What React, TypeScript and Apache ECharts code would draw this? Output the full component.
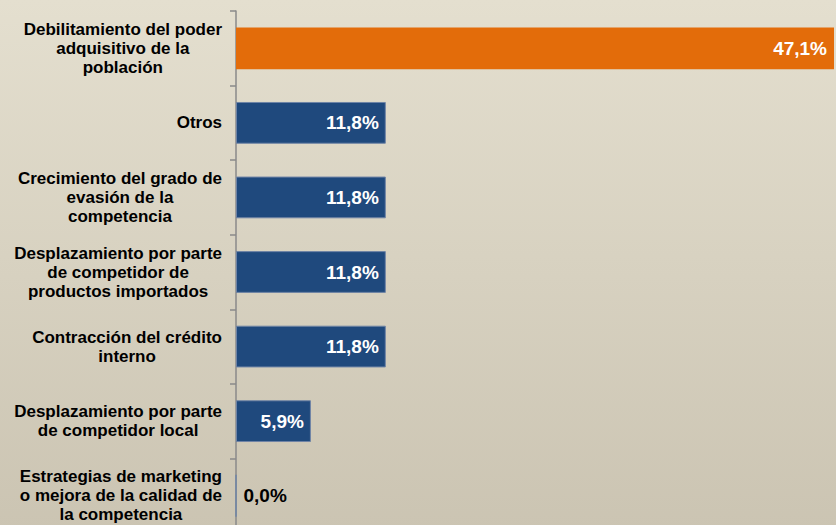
import React, { useEffect, useRef } from "react";
import * as echarts from "echarts";

const categories = [
  "Debilitamiento del poder\nadquisitivo de la\npoblación",
  "Otros",
  "Crecimiento del grado de\nevasión de la\ncompetencia",
  "Desplazamiento por parte\nde competidor de\nproductos importados",
  "Contracción del crédito\ninterno",
  "Desplazamiento por parte\nde competidor local",
  "Estrategias de marketing\no mejora de la calidad de\nla competencia",
];
const values = [47.1, 11.8, 11.8, 11.8, 11.8, 5.9, 0.0];
const highlightIndex = 0;

export default function App() {
  const ref = useRef<HTMLDivElement>(null);
  useEffect(() => {
    if (!ref.current) return;
    const chart = echarts.init(ref.current, null, { renderer: "svg" });
    const fmt = (v: number) => v.toFixed(1).replace(".", ",") + "%";
    const font = "Liberation Sans, Arial, sans-serif";
    const fontSize = 17;
    const labelRight = 222;

    const ctx = document.createElement("canvas").getContext("2d");
    const measure = (s: string) => {
      if (!ctx) return s.length * 9;
      ctx.font = "bold " + fontSize + "px 'Liberation Sans', Arial, sans-serif";
      return ctx.measureText(s).width;
    };

    chart.setOption({
      animation: false,
      backgroundColor: {
        type: "linear",
        x: 0,
        y: 0,
        x2: 0,
        y2: 1,
        colorStops: [
          { offset: 0, color: "#e4dfcf" },
          { offset: 1, color: "#cbc4b2" },
        ],
      },
      grid: { left: 236, right: 2, top: 11, bottom: 0, containLabel: false, outerBoundsMode: "none" },
      xAxis: { type: "value", min: 0, max: 47.1, show: false },
      yAxis: {
        type: "category",
        inverse: true,
        data: categories,
        axisLine: { show: true, lineStyle: { color: "#8a8a8a", width: 1.5 } },
        axisTick: { show: true, length: 6, lineStyle: { color: "#8a8a8a", width: 1.5 } },
        axisLabel: { show: false },
        splitLine: { show: false },
      },
      series: [
        {
          type: "bar",
          barCategoryGap: "44%",
          data: values.map((v, i) => ({
            value: v,
            itemStyle:
              i === highlightIndex
                ? { color: "#e36c0a", borderWidth: 0 }
                : { color: "#1f497d", borderColor: "#6f84a6", borderWidth: 1 },
            label:
              v === 0
                ? { show: true, position: "right", distance: 7, color: "#000" }
                : { show: true, position: "insideRight", distance: 7, color: "#fff" },
          })),
          label: {
            show: true,
            fontFamily: font,
            fontWeight: "bold",
            fontSize: 19,
            formatter: (p: any) => fmt(p.value),
          },
        },
      ],
    });

    const graphics = categories.map((c, i) => {
      const w = Math.max(...c.split("\n").map(measure));
      const y = chart.convertToPixel({ yAxisIndex: 0 }, i) as number;
      return {
        type: "text",
        x: labelRight - w / 2,
        y,
        silent: true,
        style: {
          text: c,
          align: "center",
          verticalAlign: "middle",
          fill: "#000",
          fontFamily: font,
          fontWeight: "bold",
          fontSize,
          lineHeight: 19,
        },
      };
    });
    chart.setOption({ graphic: graphics });

    return () => chart.dispose();
  }, []);
  return (
    <div ref={ref} style={{ position: "fixed", left: 0, top: 0, width: 836, height: 533 }} />
  );
}
